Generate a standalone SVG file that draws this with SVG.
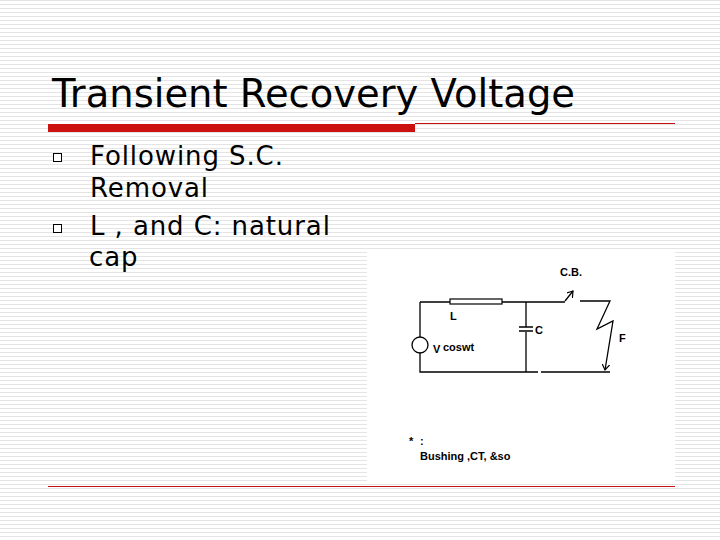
<svg xmlns="http://www.w3.org/2000/svg" width="720" height="540" viewBox="0 0 720 540">
<defs>
<pattern id="bg" width="4" height="4" patternUnits="userSpaceOnUse"><rect width="4" height="4" fill="#fff"/><rect y="0" width="4" height="1" fill="#e4e4e4"/></pattern>
<marker id="ah" markerWidth="8" markerHeight="8" refX="6" refY="4" orient="auto" markerUnits="userSpaceOnUse"><path d="M0,0 L6,4 L0,8" fill="none" stroke="#000" stroke-width="1.2"/></marker>
</defs>
<style>
.t{font-family:"DejaVu Sans",sans-serif;fill:#000}
.b{letter-spacing:0.9px}
.w{stroke:#000;stroke-width:1.3;fill:none}
.c{font-family:"Liberation Sans",Arial,sans-serif;font-weight:bold;font-size:11px}
</style>
<rect width="720" height="540" fill="url(#bg)"/>
<g id="title"><text class="t" x="52" y="107" font-size="38.5">Transient Recovery Voltage</text>
<rect x="48" y="124" width="367" height="8" fill="#cc1111"/>
<line x1="415" y1="123.5" x2="675" y2="123.5" stroke="#cc1111" stroke-width="1"/></g>
<g id="bullets">
<rect x="53.5" y="153.5" width="8" height="8" fill="#fff" stroke="#000"/>
<rect x="53.5" y="224.5" width="8" height="8" fill="#fff" stroke="#000"/>
<text class="t b" font-size="26" x="90" y="165">Following S.C.</text>
<text class="t b" font-size="26" x="90" y="197">Removal</text>
<text class="t b" font-size="26" x="90" y="235"> L , and C: natural</text>
<text class="t b" font-size="26" x="89" y="266">cap</text></g>
<rect x="367" y="250" width="308" height="232" fill="#fff"/>
<g id="circuit">
<path class="w" d="M420,302 H450 M502,302 H565 M420,302 V337 M420,353 V372 H538 M541,372 H610 M526,302 V327 M526,332 V372"/>
<rect x="450" y="299" width="52" height="5" fill="#fff" stroke="#000" stroke-width="1.2"/>
<circle cx="420" cy="345" r="8" fill="#fff" stroke="#000" stroke-width="1.3"/>
<path class="w" d="M519,327 H533 M519,331 H533"/>
<path class="w" d="M565,301 L573,291" marker-end="url(#ah)"/>
<path class="w" d="M580,301 H610 L597,329 L613,321 L605,370" marker-end="url(#ah)"/>
<text class="c" x="560" y="276">C.B.</text>
<text class="c" x="450" y="320">L</text>
<text class="c" x="535" y="334">C</text>
<text class="c" x="619" y="342">F</text>
<text class="c" x="433" y="353" font-weight="normal" font-size="13">V</text>
<text class="c" x="443" y="351">coswt</text>
<text class="c" x="409" y="445" font-weight="normal" font-size="8">*</text>
<text class="c" x="420" y="445">:</text>
<text class="c" x="420" y="460">Bushing ,CT, &amp;so</text>
</g>
<line x1="48" y1="486.5" x2="675" y2="486.5" stroke="#cc1111" stroke-width="1"/>
</svg>
